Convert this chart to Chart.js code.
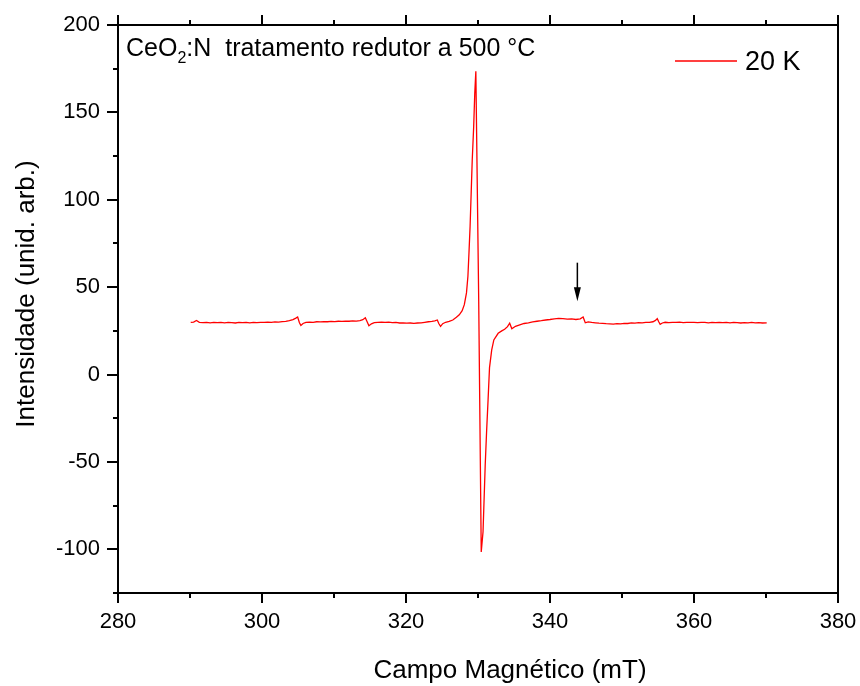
<!DOCTYPE html>
<html>
<head>
<meta charset="utf-8">
<script src="https://cdn.jsdelivr.net/npm/chart.js@4.4.1/dist/chart.umd.min.js"></script>
<style>
  html, body { margin: 0; padding: 0; background: #fff; }
  #wrap { width: 860px; height: 686px; }
</style>
</head>
<body>
<div id="wrap"><canvas id="c" width="860" height="686"></canvas></div>
<script>
// EPR spectrum of CeO2:N after reduction at 500 °C, measured at 20 K
const fieldMT = [
  290.1, 290.5, 290.9, 291.3, 291.8, 292.3, 292.8, 293.3, 293.8, 294.3,
  294.8, 295.3, 295.8, 296.3, 296.8, 297.3, 297.8, 298.3, 298.8, 299.3,
  299.8, 300.3, 300.8, 301.3, 301.8, 302.3, 302.8, 303.3, 303.8, 304.3,
  304.7, 304.95, 305.2, 305.4, 305.7, 306.1, 306.6, 307.1, 307.6, 308.1,
  308.6, 309.1, 309.6, 310.1, 310.6, 311.1, 311.6, 312.1, 312.6, 313.1,
  313.6, 314.0, 314.35, 314.6, 314.85, 315.2, 315.6, 316.1, 316.6, 317.1,
  317.6, 318.1, 318.6, 319.1, 319.6, 320.1, 320.6, 321.1, 321.6, 322.1,
  322.6, 323.1, 323.6, 324.0, 324.35, 324.55, 324.8, 325.1, 325.5, 326.0,
  326.5, 327.0, 327.4, 327.8, 328.1, 328.4, 328.6, 328.75, 328.9, 329.05,
  329.2, 329.4, 329.55, 329.7, 330.1, 330.45, 330.7, 331.0, 331.2, 331.4,
  331.6, 331.9, 332.2, 332.8, 333.3, 333.7, 334.1, 334.4, 334.7, 335.2,
  335.8, 336.4, 337.0, 337.6, 338.2, 338.8, 339.4, 340.0, 340.6, 341.2,
  341.8, 342.4, 343.0, 343.6, 344.2, 344.6, 344.9, 345.3, 345.8, 346.3,
  346.8, 347.3, 347.8, 348.3, 348.8, 349.3, 349.8, 350.3, 350.8, 351.3,
  351.8, 352.3, 352.8, 353.3, 353.8, 354.3, 354.65, 354.9, 355.1, 355.3,
  355.6, 356.0, 356.5, 357.0, 357.5, 358.0, 358.5, 359.0, 359.5, 360.0,
  360.5, 361.0, 361.5, 362.0, 362.5, 363.0, 363.5, 364.0, 364.5, 365.0,
  365.5, 366.0, 366.5, 367.0, 367.5, 368.0, 368.5, 369.0, 369.5, 370.1
];
const intensity = [
  29.8, 30.0, 30.9, 29.9, 29.7, 29.9, 29.6, 29.8, 29.7, 29.9,
  29.6, 29.8, 29.7, 29.5, 29.8, 29.7, 29.9, 29.6, 29.8, 29.7,
  29.9, 29.8, 30.0, 29.8, 30.1, 30.0, 30.3, 30.4, 30.8, 31.4,
  32.3, 32.9, 29.6, 28.1, 29.2, 29.8, 30.0, 29.9, 30.2, 30.1,
  30.3, 30.2, 30.4, 30.3, 30.5, 30.4, 30.6, 30.5, 30.7, 30.6,
  30.9, 31.4, 32.5, 30.2, 27.9, 29.0, 29.7, 29.9, 30.0, 29.8,
  30.0, 29.7, 29.8, 29.5, 29.6, 29.4, 29.5, 29.3, 29.5, 29.6,
  29.9, 30.2, 30.4, 30.7, 31.2, 29.2, 27.6, 29.1, 29.9, 30.4,
  31.2, 32.8, 34.2, 36.5, 40.0, 46.7, 56.2, 70.0, 84.6, 103.6,
  122.8, 141.8, 160.9, 173.5, 42.0, -101.5, -90.0, -52.0, -32.0, -14.5,
  4.0, 14.0, 19.8, 23.6, 25.0, 25.9, 27.4, 29.4, 26.2, 27.6,
  28.4, 29.2, 29.6, 30.1, 30.5, 30.8, 31.2, 31.5, 31.9, 32.1,
  32.0, 31.7, 31.8, 31.5, 31.9, 32.9, 29.6, 30.1, 29.8, 29.6,
  29.4, 29.3, 29.1, 29.0, 28.9, 29.1, 29.0, 29.3, 29.2, 29.5,
  29.4, 29.7, 29.6, 29.9, 29.8, 30.2, 31.0, 32.0, 30.2, 28.7,
  29.5, 29.9, 29.7, 29.9, 29.8, 30.0, 29.7, 29.9, 29.8, 29.9,
  29.7, 29.9, 29.8, 29.6, 29.8, 29.7, 29.9, 29.7, 29.8, 29.6,
  29.8, 29.7, 29.5, 29.7, 29.6, 29.8, 29.6, 29.7, 29.5, 29.6
];

// axis ticks
const xMajorTicks = [280, 300, 320, 340, 360, 380];
const xMinorTicks = [290, 310, 330, 350, 370];
const yMajorTicks = [-100, -50, 0, 50, 100, 150, 200];
const yMinorTicks = [-125, -75, -25, 25, 75, 125, 175];

// marked weak line
const arrowField = 343.8;
const arrowFrom = 64;
const arrowTo = 42;

const seriesLabel = '20 K';
const sampleText = ['CeO', '2', ':N  tratamento redutor a 500 °C'];
const xTitle = 'Campo Magnético (mT)';
const yTitle = 'Intensidade (unid. arb.)';

const FONT = '"Liberation Sans", Arial, Helvetica, sans-serif';
const RED = '#ff0000';

const decorations = {
  id: 'decorations',
  afterDatasetsDraw(chart) {
    const { ctx, chartArea: a, scales: { x, y } } = chart;
    ctx.save();
    ctx.strokeStyle = '#000';
    ctx.lineWidth = 2;
    ctx.lineCap = 'butt';
    ctx.strokeRect(a.left, a.top, a.right - a.left, a.bottom - a.top);

    const seg = (x1, y1, x2, y2) => {
      ctx.beginPath(); ctx.moveTo(x1, y1); ctx.lineTo(x2, y2); ctx.stroke();
    };
    xMajorTicks.forEach(v => {
      const px = Math.round(x.getPixelForValue(v));
      seg(px, a.bottom, px, a.bottom + 10);
      seg(px, a.top, px, a.top - 10);
    });
    xMinorTicks.forEach(v => {
      const px = Math.round(x.getPixelForValue(v));
      seg(px, a.bottom, px, a.bottom + 5);
      seg(px, a.top, px, a.top - 5);
    });
    yMajorTicks.forEach(v => {
      const py = Math.round(y.getPixelForValue(v));
      seg(a.left, py, a.left - 11, py);
    });
    yMinorTicks.forEach(v => {
      const py = Math.round(y.getPixelForValue(v));
      seg(a.left, py, a.left - 5, py);
    });

    // arrow pointing at the weak line
    const ax = x.getPixelForValue(arrowField);
    const yTop = y.getPixelForValue(arrowFrom);
    const yTip = y.getPixelForValue(arrowTo);
    ctx.lineWidth = 1.5;
    seg(ax, yTop, ax, yTip - 10);
    ctx.fillStyle = '#000';
    ctx.beginPath();
    ctx.moveTo(ax - 3.5, yTip - 14);
    ctx.lineTo(ax + 3.5, yTip - 14);
    ctx.lineTo(ax, yTip);
    ctx.closePath();
    ctx.fill();

    // sample description
    ctx.fillStyle = '#000';
    ctx.textBaseline = 'alphabetic';
    ctx.textAlign = 'left';
    let tx = a.left + 8;
    ctx.font = '25px ' + FONT;
    ctx.fillText(sampleText[0], tx, a.top + 31);
    tx += ctx.measureText(sampleText[0]).width;
    ctx.font = '16px ' + FONT;
    ctx.fillText(sampleText[1], tx, a.top + 38);
    tx += ctx.measureText(sampleText[1]).width;
    ctx.font = '25px ' + FONT;
    ctx.fillText(sampleText[2], tx, a.top + 31);

    // legend
    ctx.strokeStyle = RED;
    ctx.lineWidth = 1.3;
    seg(675, a.top + 36, 737, a.top + 36);
    ctx.font = '27px ' + FONT;
    ctx.fillText(seriesLabel, 745, a.top + 45);

    // axis titles
    ctx.font = '26px ' + FONT;
    ctx.textAlign = 'center';
    ctx.textBaseline = 'middle';
    ctx.fillText(xTitle, 510, 671);
    ctx.translate(27, 294);
    ctx.rotate(-Math.PI / 2);
    ctx.fillText(yTitle, 0, 0);
    ctx.restore();
  }
};

new Chart(document.getElementById('c'), {
  type: 'line',
  data: {
    datasets: [{
      label: seriesLabel,
      data: fieldMT.map((f, i) => ({ x: f, y: intensity[i] })),
      borderColor: RED,
      backgroundColor: RED,
      borderWidth: 1.3,
      pointRadius: 0,
      tension: 0,
      fill: false
    }]
  },
  options: {
    responsive: false,
    animation: false,
    devicePixelRatio: 1,
    layout: { padding: { top: 25, right: 22, left: 0, bottom: 0 } },
    plugins: { legend: { display: false }, tooltip: { enabled: false } },
    scales: {
      x: {
        type: 'linear',
        min: 280, max: 380,
        afterBuildTicks: s => { s.ticks = xMajorTicks.map(v => ({ value: v })); },
        afterFit: s => { s.height = 93; s.paddingLeft = 0; s.paddingRight = 0; },
        grid: { display: false, drawTicks: false },
        border: { display: false },
        ticks: { color: '#000', padding: 16, maxRotation: 0, font: { family: FONT, size: 22 } },
        title: { display: false, text: xTitle }
      },
      y: {
        type: 'linear',
        min: -125, max: 200,
        afterBuildTicks: s => { s.ticks = yMajorTicks.map(v => ({ value: v })); },
        afterFit: s => { s.width = 118; s.paddingTop = 0; s.paddingBottom = 0; },
        grid: { display: false, drawTicks: false },
        border: { display: false },
        ticks: { color: '#000', padding: 18, font: { family: FONT, size: 22 } },
        title: { display: false, text: yTitle }
      }
    }
  },
  plugins: [decorations]
});
</script>
</body>
</html>
